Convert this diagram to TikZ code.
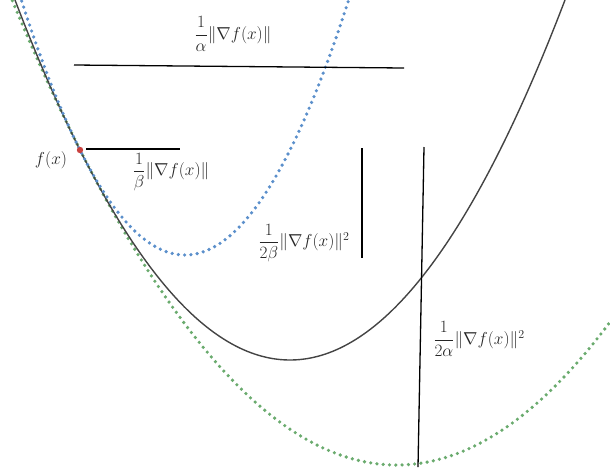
\documentclass[tikz,border=0pt]{standalone}
\usepackage{amsmath}
\begin{document}
\begin{tikzpicture}[x=1pt,y=-1pt,
  dotted curve/.style={line width=3.6pt,line cap=round,dash pattern=on 0pt off 6.3pt},
  segline/.style={line width=1.3pt,black},
  lbl/.style={font=\fontsize{17}{20}\selectfont,text=black!85}]
\definecolor{bluedot}{HTML}{5B8FCB}
\definecolor{greendot}{HTML}{6AAB6E}
\definecolor{curvegray}{HTML}{444444}
\definecolor{reddot}{HTML}{C9413F}
\useasboundingbox (0,0) rectangle (610,475);
\begin{scope}
\clip (0,0) rectangle (610,475);
\draw[dotted curve,greendot] plot[domain=10:615,samples=150] (\x,{465-0.00314*(\x-396.7)*(\x-396.7)});
\draw[curvegray,line width=1.4pt] plot[domain=13:567,samples=150] (\x,{360-0.00476*(\x-290)*(\x-290)});
\draw[dotted curve,bluedot] plot[domain=16:350,samples=150] (\x,{255-0.00952*(\x-185)*(\x-185)});
\end{scope}
% segments
\coordinate (a1) at (74,65);
\coordinate (a2) at (404,68);
\coordinate (b1) at (86,149);
\coordinate (b2) at (180,149);
\coordinate (c1) at (362,148);
\coordinate (c2) at (362,258);
\coordinate (d1) at (424,147);
\coordinate (d2) at (418,467);
\draw[segline] (a1) -- (a2);
\draw[segline] (b1) -- (b2);
\draw[segline] (c1) -- (c2);
\draw[segline] (d1) -- (d2);
\fill[reddot] (80,150) circle (3.2pt) node (fx) {};
\node[lbl] (lfx) at (51,160) {$f(x)$};
\node[lbl] (la) at (233,34) {$\dfrac{1}{\alpha}\|\nabla f(x)\|$};
\node[lbl] (lb) at (171,172) {$\dfrac{1}{\beta}\|\nabla f(x)\|$};
\node[lbl] (lc) at (304,243) {$\dfrac{1}{2\beta}\|\nabla f(x)\|^2$};
\node[lbl] (ld) at (479,339) {$\dfrac{1}{2\alpha}\|\nabla f(x)\|^2$};
\end{tikzpicture}
\end{document}
